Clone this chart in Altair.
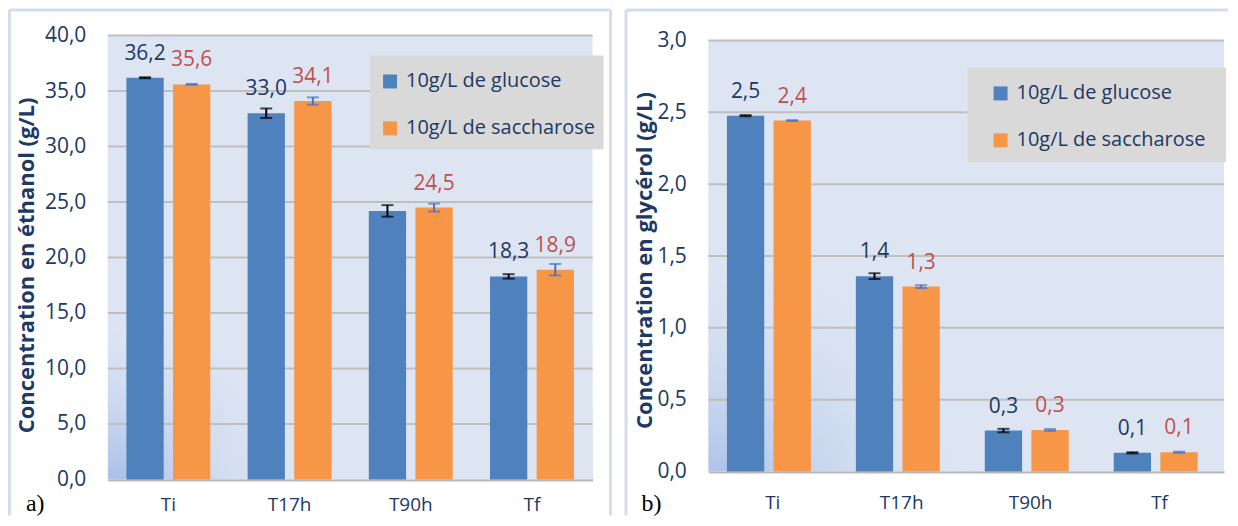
import altair as alt
import pandas as pd

categories = ["Ti", "T17h", "T90h", "Tf"]
series = ["10g/L de glucose", "10g/L de saccharose"]

# Ethanol (g/L)
eth_glucose = [36.2, 33.0, 24.2, 18.3]
eth_glucose_err = [0.05, 0.43, 0.52, 0.2]
eth_glucose_labels = ["36,2", "33,0", "", "18,3"]
eth_sacch = [35.6, 34.1, 24.5, 18.9]
eth_sacch_err = [0.04, 0.33, 0.36, 0.52]
eth_sacch_labels = ["35,6", "34,1", "24,5", "18,9"]
eth_ticks = [0, 5, 10, 15, 20, 25, 30, 35, 40]

# Glycerol (g/L)
gly_glucose = [2.477, 1.36, 0.285, 0.13]
gly_glucose_err = [0.004, 0.02, 0.012, 0.004]
gly_glucose_labels = ["2,5", "1,4", "0,3", "0,1"]
gly_sacch = [2.443, 1.287, 0.289, 0.134]
gly_sacch_err = [0.003, 0.01, 0.006, 0.004]
gly_sacch_labels = ["2,4", "1,3", "0,3", "0,1"]
gly_ticks = [0, 0.5, 1.0, 1.5, 2.0, 2.5, 3.0]

FONT = "Open Sans"
NAVY = "#203864"
RED = "#c0504d"
BLUE = "#4f81bd"
ORANGE = "#f79646"
ERRBLUE = "#4472c4"
GRID = "#bfbfbf"
BG = "#dde5f3"
FRAME = "#d3ddef"
BOX = "#d9d9d9"


def panel(vg, eg, lg, vs, es, ls, ticks, title, letter, W, H, p):
    df = pd.DataFrame({
        "cat": categories * 2,
        "series": [series[0]] * 4 + [series[1]] * 4,
        "value": vg + vs,
        "err": eg + es,
        "label": lg + ls,
    })
    df["lo"] = df["value"] - df["err"]
    df["hi"] = df["value"] + df["err"]
    one = pd.DataFrame({"k": [0]})
    grid_df = pd.DataFrame({"g": ticks[1:]})
    top = p["top"]

    yscale = alt.Scale(domain=[ticks[0], ticks[-1]], nice=False, range=[H, top])
    xscale = alt.Scale(paddingInner=0, paddingOuter=0)
    xoscale = alt.Scale(paddingInner=0.2, paddingOuter=0.4)

    xaxis = alt.Axis(labelAngle=0, ticks=False, domain=True, domainColor="#b8b8b8",
                     domainWidth=3, grid=False, labelFont=FONT, labelFontSize=19,
                     labelColor=NAVY, labelPadding=p["xpad"], title=None)
    yaxis = alt.Axis(values=ticks, labelExpr="replace(format(datum.value, '.1f'), '.', ',')",
                     grid=False, ticks=False, domain=False, labelFont=FONT, labelFontSize=21,
                     labelColor=NAVY, labelPadding=22, title=title, titleFont=FONT,
                     titleFontSize=22, titleFontWeight="bold", titleColor=NAVY,
                     titlePadding=p["tpad"], titleY=p["ty"])

    def X():
        return alt.X("cat:N", sort=categories, scale=xscale, axis=xaxis, title=None)

    def XO():
        return alt.XOffset("series:N", sort=series, scale=xoscale)

    def Y(field):
        return alt.Y(field, scale=yscale, axis=yaxis, title=title)

    fl, ft, fr, fb = p["frame"]
    frame_layers = [
        alt.Chart(one).mark_rule(color=FRAME, strokeWidth=3).encode(
            x=alt.value(fl), x2=alt.value(fr if fr is not None else W + 4),
            y=alt.value(ft), y2=alt.value(ft)),
        alt.Chart(one).mark_rule(color=FRAME, strokeWidth=3).encode(
            x=alt.value(fl), x2=alt.value(fl), y=alt.value(ft), y2=alt.value(fb)),
    ]
    if fr is not None:
        frame_layers.append(alt.Chart(one).mark_rule(color=FRAME, strokeWidth=3).encode(
            x=alt.value(fr), x2=alt.value(fr), y=alt.value(ft), y2=alt.value(fb)))

    bg = alt.Chart(one).mark_rect(color=BG).encode(
        x=alt.value(0), x2=alt.value(W), y=alt.value(top), y2=alt.value(H))

    glow = alt.Chart(one).mark_rect(
        color=alt.RadialGradient(
            gradient="radial",
            stops=[alt.GradientStop(offset=0, color="#9db7e5"),
                   alt.GradientStop(offset=1, color="rgba(221,229,243,0)")],
            x1=0, y1=1, x2=0, y2=1, r1=0, r2=p["glow"],
        )
    ).encode(x=alt.value(0), x2=alt.value(W), y=alt.value(top), y2=alt.value(H))

    grid = alt.Chart(grid_df).mark_rule(color=GRID, strokeWidth=2).encode(y=Y("g:Q"))

    bx0, by0, bx1, by1 = p["box"]
    box = alt.Chart(one).mark_rect(color=BOX).encode(
        x=alt.value(bx0), x2=alt.value(bx1), y=alt.value(by0), y2=alt.value(by1))

    bars = alt.Chart(df).mark_bar().encode(
        x=X(), xOffset=XO(), y=Y("value:Q"),
        color=alt.Color("series:N", scale=alt.Scale(domain=series, range=[BLUE, ORANGE]),
                        legend=alt.Legend(title=None, orient="none", legendX=p["lx"], legendY=p["ly"],
                                          symbolType="square", symbolSize=196, symbolStrokeWidth=0,
                                          labelFont=FONT, labelFontSize=20, labelColor=NAVY,
                                          labelLimit=0, rowPadding=27, labelOffset=6, padding=0)),
    )

    ecolor = alt.condition(alt.datum.series == series[0], alt.value("black"), alt.value(ERRBLUE))
    erule = alt.Chart(df).mark_rule(strokeWidth=2).encode(
        x=X(), xOffset=XO(), y=Y("lo:Q"), y2="hi:Q", color=ecolor)
    ecap = alt.Chart(df).transform_fold(["lo", "hi"], as_=["capk", "capv"]).mark_tick(
        thickness=2, size=12).encode(x=X(), xOffset=XO(), y=Y("capv:Q"), color=ecolor)

    labels = alt.Chart(df).mark_text(dy=-24, baseline="middle", font=FONT, fontSize=21).encode(
        x=X(), xOffset=XO(), y=Y("value:Q"), text="label:N",
        color=alt.condition(alt.datum.series == series[0], alt.value(NAVY), alt.value(RED)))

    let = alt.Chart(one).mark_text(align="left", baseline="middle", font="Liberation Serif",
                                   fontSize=24, color="black").encode(
        x=alt.value(p["ax"]), y=alt.value(p["ay"]), text=alt.value(letter))

    return alt.layer(*frame_layers, bg, glow, grid, box, bars, erule, ecap, labels, let).properties(
        width=W, height=H)


left = panel(eth_glucose, eth_glucose_err, eth_glucose_labels,
             eth_sacch, eth_sacch_err, eth_sacch_labels, eth_ticks,
             "Concentration en éthanol (g/L)", "a)", 486, 445,
             dict(top=0, xpad=16, tpad=6, ty=230, frame=(-98.5, -25.5, 504, 481), glow=0.42,
                  box=(263, 20, 497, 114), lx=273, ly=36, ax=-82, ay=470))

right = panel(gly_glucose, gly_glucose_err, gly_glucose_labels,
              gly_sacch, gly_sacch_err, gly_sacch_labels, gly_ticks,
              "Concentration en glycérol (g/L)", "b)", 517, 437,
              dict(top=5, xpad=22, tpad=0, ty=225, frame=(-82.5, -25.5, None, 481), glow=0.55,
                   box=(260, 32, 519, 127), lx=283, ly=48, ax=-67, ay=470))

chart = alt.hconcat(left, right, spacing=12, padding=0).resolve_scale(
    color="independent").resolve_legend(color="independent").configure_view(
    stroke=None, fill=None)

chart.save("out.html", embed_options={"renderer": "svg", "actions": False})
